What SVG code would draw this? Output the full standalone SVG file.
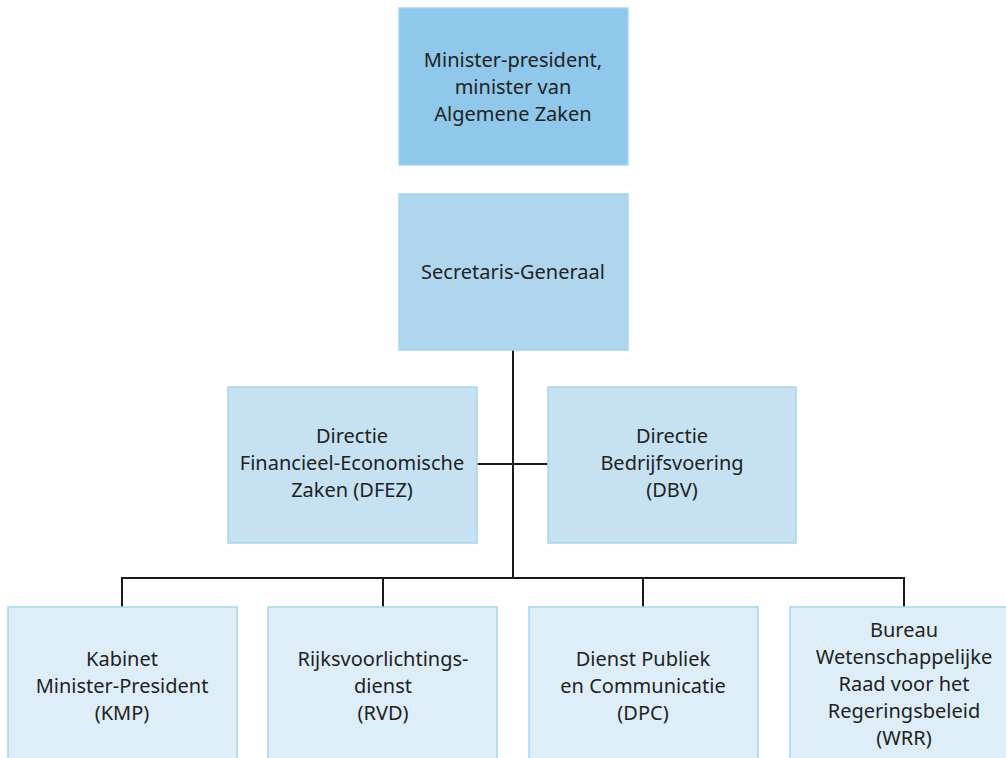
<svg xmlns="http://www.w3.org/2000/svg" width="1006" height="758" viewBox="0 0 1006 758">
<style>
text{font-family:"Noto Sans","Open Sans",sans-serif;font-size:20px;fill:#222;text-anchor:middle}
.l1{fill:#8fc8ea;stroke:#a6d5f0;stroke-width:1.5}
.l2{fill:#b0d6ee;stroke:#a6d5f0;stroke-width:1.5}
.l3{fill:#c5e1f2;stroke:#a6d5f0;stroke-width:1.5}
.l4{fill:#deeef8;stroke:#a6d5f0;stroke-width:1.5}
.c{fill:none;stroke:#1a1a1a;stroke-width:2}
</style>
<rect width="1006" height="758" fill="#fff"/>
<g id="connectors">
<path class="c" d="M513,350V578M477,464H548M122,607V578H904V607M383,578V607M643,578V607"/>
</g>
<g id="minister">
<rect class="l1" x="399" y="8" width="229" height="157"/>
<text x="513" y="67">Minister-president,</text>
<text x="513" y="94">minister van</text>
<text x="513" y="121">Algemene Zaken</text>
</g>
<g id="sg">
<rect class="l2" x="399" y="194" width="229" height="156"/>
<text x="513" y="279">Secretaris-Generaal</text>
</g>
<g id="dfez">
<rect class="l3" x="228" y="387" width="249" height="156"/>
<text x="352" y="443">Directie</text>
<text x="352" y="470">Financieel-Economische</text>
<text x="352" y="497">Zaken (DFEZ)</text>
</g>
<g id="dbv">
<rect class="l3" x="548" y="387" width="248" height="156"/>
<text x="672" y="443">Directie</text>
<text x="672" y="470">Bedrijfsvoering</text>
<text x="672" y="497">(DBV)</text>
</g>
<g id="kmp">
<rect class="l4" x="8" y="607" width="229" height="160"/>
<text x="122" y="666">Kabinet</text>
<text x="122" y="693">Minister-President</text>
<text x="122" y="720">(KMP)</text>
</g>
<g id="rvd">
<rect class="l4" x="268" y="607" width="229" height="160"/>
<text x="383" y="666">Rijksvoorlichtings-</text>
<text x="383" y="693">dienst</text>
<text x="383" y="720">(RVD)</text>
</g>
<g id="dpc">
<rect class="l4" x="529" y="607" width="229" height="160"/>
<text x="643" y="666">Dienst Publiek</text>
<text x="643" y="693">en Communicatie</text>
<text x="643" y="720">(DPC)</text>
</g>
<g id="wrr">
<rect class="l4" x="790" y="607" width="229" height="160"/>
<text x="904" y="637">Bureau</text>
<text x="904" y="664">Wetenschappelijke</text>
<text x="904" y="691">Raad voor het</text>
<text x="904" y="718">Regeringsbeleid</text>
<text x="904" y="745">(WRR)</text>
</g>
</svg>
